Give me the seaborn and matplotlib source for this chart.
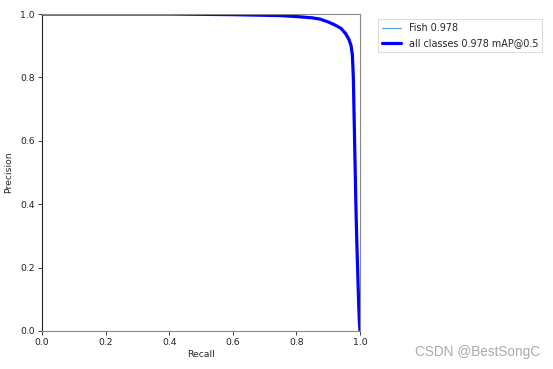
import matplotlib
matplotlib.use("Agg")
import matplotlib.pyplot as plt
import seaborn as sns
import numpy as np

recall = [0.0, 0.2, 0.4, 0.5, 0.6, 0.65, 0.7, 0.75, 0.8, 0.85, 0.874, 0.9, 0.92,
          0.94, 0.955, 0.965, 0.972, 0.976, 0.979, 0.981, 0.983, 0.985, 0.987,
          0.990, 0.993, 0.996, 0.998, 1.0]
precision = [1.0, 1.0, 1.0, 0.999, 0.998, 0.997, 0.996, 0.995, 0.992, 0.988, 0.984,
             0.975, 0.966, 0.955, 0.938, 0.92, 0.9, 0.87, 0.8, 0.7, 0.6, 0.5, 0.4,
             0.28, 0.18, 0.08, 0.03, 0.0]
class_label = "Fish 0.978"
all_label = "all classes 0.978 mAP@0.5"

sns.set_style("ticks")
plt.rcParams['font.family'] = ['DejaVu Sans']

fig = plt.figure(figsize=(5.53, 3.69), dpi=100)
ax = fig.add_axes([0.076, 0.103, 0.575, 0.859])

sns.lineplot(x=recall, y=precision, ax=ax, color="#4f9fe3", linewidth=0.8,
             label=class_label, sort=False)
sns.lineplot(x=recall, y=precision, ax=ax, color="blue", linewidth=2.3,
             label=all_label, sort=False)

ax.set_xlim(0, 1)
ax.set_ylim(0, 1)
ax.set_xlabel("Recall", fontsize=6.7, labelpad=2)
ax.set_ylabel("Precision", fontsize=6.7, labelpad=5)
ax.set_xticks([0, 0.2, 0.4, 0.6, 0.8, 1.0])
ax.set_yticks([0, 0.2, 0.4, 0.6, 0.8, 1.0])
ax.tick_params(labelsize=6.7, length=3, width=0.6, pad=2, colors="#222222")
for name, s in ax.spines.items():
    s.set_linewidth(0.8)
    s.set_color("#222222" if name == "left" else "#888888")

leg = ax.legend(bbox_to_anchor=(1.04, 1), loc="upper left", fontsize=6.9,
                frameon=True, fancybox=False, handlelength=2.0, borderpad=0.45,
                handletextpad=0.8)
leg.get_frame().set_linewidth(0.6)
leg.get_frame().set_edgecolor("#cccccc")

fig.text(0.977, 0.045, "CSDN @BestSongC", ha="right", va="center",
         fontsize=9.8, color="#aaaaaa", family="Liberation Sans")

fig.savefig("out.png", dpi=100)
